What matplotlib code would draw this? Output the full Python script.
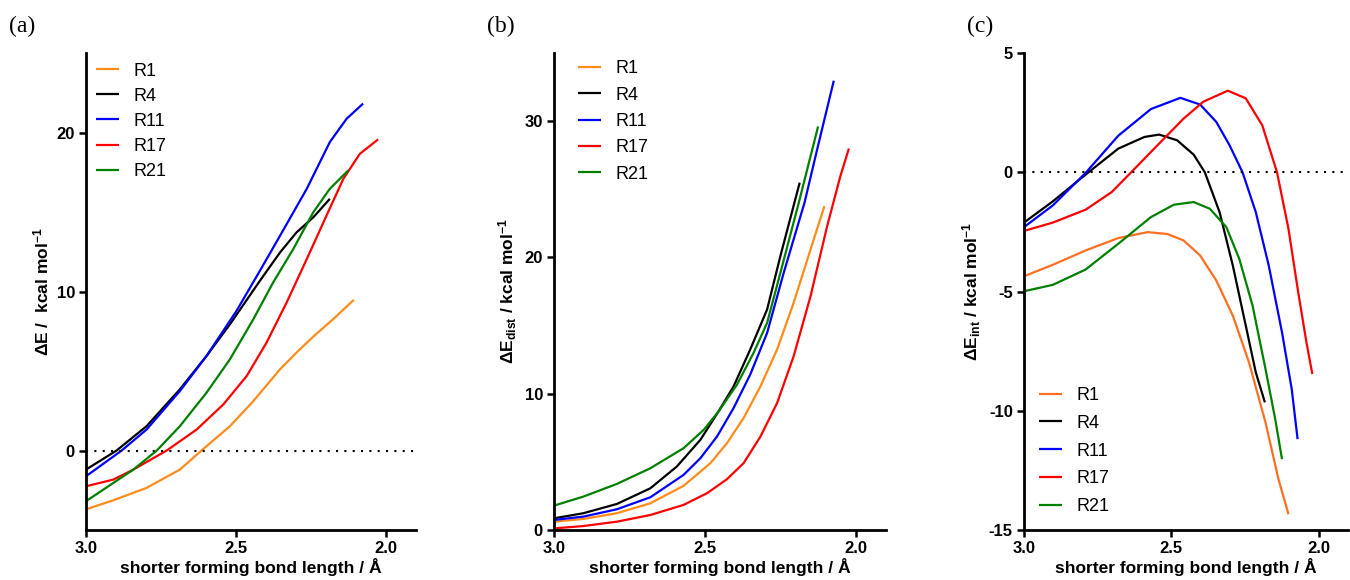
import numpy as np
import matplotlib
matplotlib.use('Agg')
import matplotlib.pyplot as plt

plt.rcParams['font.family'] = ['Liberation Sans', 'DejaVu Sans']
plt.rcParams['mathtext.default'] = 'regular'
plt.rcParams['axes.unicode_minus'] = False

names = ['R1', 'R4', 'R11', 'R17', 'R21']

# panel (a): total energy
a_x = {
    'R1': [3.0, 2.909, 2.798, 2.687, 2.615, 2.520, 2.442, 2.353, 2.298, 2.242, 2.176, 2.107],
    'R4': [3.0, 2.898, 2.798, 2.687, 2.598, 2.520, 2.420, 2.353, 2.298, 2.242, 2.187],
    'R11': [3.0, 2.881, 2.798, 2.687, 2.598, 2.498, 2.420, 2.353, 2.264, 2.187, 2.131, 2.076],
    'R17': [3.0, 2.909, 2.842, 2.731, 2.631, 2.542, 2.464, 2.398, 2.331, 2.264, 2.198, 2.142, 2.087, 2.026],
    'R21': [3.0, 2.909, 2.842, 2.764, 2.687, 2.598, 2.520, 2.442, 2.376, 2.309, 2.242, 2.187, 2.126],
}
a_y = {
    'R1': [-3.70, -3.13, -2.35, -1.20, 0.0, 1.53, 3.11, 5.11, 6.16, 7.17, 8.26, 9.48],
    'R4': [-1.20, 0.0, 1.53, 3.85, 5.95, 7.94, 10.68, 12.46, 13.72, 14.67, 15.83],
    'R11': [-1.62, 0.0, 1.32, 3.74, 5.95, 8.79, 11.31, 13.51, 16.46, 19.40, 20.87, 21.82],
    'R17': [-2.25, -1.83, -1.20, 0.0, 1.32, 2.90, 4.69, 6.79, 9.31, 12.04, 14.78, 17.09, 18.66, 19.57],
    'R21': [-3.19, -2.04, -1.20, 0.0, 1.53, 3.64, 5.74, 8.26, 10.57, 12.67, 14.99, 16.46, 17.61],
}

# panel (b): distortion energy
b_x = {
    'R1': [3.0, 2.903, 2.792, 2.681, 2.571, 2.482, 2.427, 2.372, 2.316, 2.261, 2.206, 2.150, 2.104],
    'R4': [3.0, 2.903, 2.792, 2.681, 2.593, 2.515, 2.455, 2.405, 2.350, 2.294, 2.250, 2.186],
    'R11': [3.0, 2.903, 2.792, 2.681, 2.571, 2.515, 2.460, 2.405, 2.350, 2.294, 2.239, 2.170, 2.128, 2.073],
    'R17': [3.0, 2.903, 2.792, 2.681, 2.571, 2.493, 2.427, 2.372, 2.316, 2.261, 2.206, 2.150, 2.095, 2.051, 2.023],
    'R21': [3.0, 2.903, 2.792, 2.681, 2.571, 2.504, 2.455, 2.394, 2.339, 2.294, 2.250, 2.189, 2.125],
}
b_y = {
    'R1': [0.61, 0.81, 1.23, 1.96, 3.24, 4.90, 6.37, 8.21, 10.54, 13.24, 16.67, 20.59, 23.77],
    'R4': [0.86, 1.23, 1.91, 3.06, 4.66, 6.62, 8.70, 10.54, 13.24, 16.18, 20.10, 25.49],
    'R11': [0.74, 0.98, 1.52, 2.40, 4.04, 5.27, 6.86, 8.95, 11.40, 14.46, 18.87, 24.02, 27.94, 32.97],
    'R17': [0.12, 0.29, 0.61, 1.10, 1.84, 2.70, 3.73, 4.90, 6.86, 9.31, 12.75, 17.16, 22.30, 25.98, 27.99],
    'R21': [1.79, 2.45, 3.38, 4.53, 6.00, 7.35, 8.70, 10.66, 12.99, 15.20, 18.87, 24.02, 29.61],
}

# panel (c): interaction energy
c_x = {
    'R1': [3.0, 2.902, 2.791, 2.680, 2.580, 2.513, 2.458, 2.402, 2.347, 2.291, 2.236, 2.180, 2.136, 2.102],
    'R4': [3.0, 2.902, 2.791, 2.680, 2.591, 2.541, 2.480, 2.424, 2.386, 2.336, 2.291, 2.247, 2.213, 2.182],
    'R11': [3.0, 2.902, 2.791, 2.680, 2.569, 2.469, 2.402, 2.347, 2.302, 2.258, 2.213, 2.169, 2.124, 2.091, 2.071],
    'R17': [3.0, 2.902, 2.791, 2.702, 2.636, 2.547, 2.458, 2.391, 2.308, 2.247, 2.191, 2.141, 2.102, 2.069, 2.041, 2.021],
    'R21': [3.0, 2.902, 2.791, 2.680, 2.569, 2.491, 2.424, 2.369, 2.313, 2.269, 2.224, 2.180, 2.147, 2.124],
}
c_y = {
    'R1': [-4.36, -3.88, -3.28, -2.76, -2.51, -2.59, -2.86, -3.49, -4.54, -6.01, -7.97, -10.49, -12.87, -14.34],
    'R4': [-2.11, -1.22, -0.10, 0.99, 1.48, 1.58, 1.34, 0.74, 0.0, -1.67, -3.91, -6.43, -8.39, -9.65],
    'R11': [-2.30, -1.39, -0.03, 1.53, 2.65, 3.12, 2.84, 2.11, 1.13, 0.0, -1.67, -3.91, -6.71, -9.09, -11.19],
    'R17': [-2.46, -2.11, -1.57, -0.83, 0.0, 1.13, 2.25, 2.96, 3.42, 3.10, 1.97, 0.0, -2.37, -5.03, -7.13, -8.46],
    'R21': [-4.99, -4.72, -4.08, -3.00, -1.88, -1.36, -1.25, -1.53, -2.30, -3.63, -5.59, -8.25, -10.35, -12.03],
}

colors_ab = {'R1': '#FF8C1A', 'R4': '#000000', 'R11': '#0000FF', 'R17': '#FF0000', 'R21': '#008000'}
colors_c = dict(colors_ab)
colors_c['R1'] = '#FF6F20'

fig = plt.figure(figsize=(13.5, 5.8), dpi=100)
bottom, height = 0.0862, 0.8224
ax_a = fig.add_axes([0.0637, bottom, 0.2444, height])
ax_b = fig.add_axes([0.4104, bottom, 0.2459, height])
ax_c = fig.add_axes([0.7585, bottom, 0.2400, height])

panels = [
    (ax_a, a_x, a_y, colors_ab, (-5, 25), [0, 10, 20], 'ΔE /  kcal mol$^{-1}$', '(a)'),
    (ax_b, b_x, b_y, colors_ab, (0, 35), [0, 10, 20, 30], 'ΔE$_{dist}$ / kcal mol$^{-1}$', '(b)'),
    (ax_c, c_x, c_y, colors_c, (-15, 5), [-15, -10, -5, 0, 5], 'ΔE$_{int}$ / kcal mol$^{-1}$', '(c)'),
]

for ax, xs, ys, cols, ylim, yticks, ylab, tag in panels:
    for n in names:
        ax.plot(xs[n], ys[n], color=cols[n], lw=1.6, label=n,
                solid_capstyle='butt', solid_joinstyle='round')
    if tag != '(b)':
        ax.axhline(0, color='black', ls=(0, (1, 3)), lw=1.5)
    ax.set_xlim(3.0, 1.9)
    ax.set_ylim(*ylim)
    ax.set_xticks([3.0, 2.5, 2.0])
    ax.set_xticklabels(['3.0', '2.5', '2.0'])
    ax.set_yticks(yticks)
    ax.spines['top'].set_visible(False)
    ax.spines['right'].set_visible(False)
    ax.spines['left'].set_linewidth(2)
    ax.spines['bottom'].set_linewidth(2)
    ax.tick_params(direction='out', length=5, width=1.8, labelsize=12, pad=3)
    for lab in ax.get_xticklabels() + ax.get_yticklabels():
        lab.set_fontweight('bold')
    ax.set_xlabel('shorter forming bond length / Å', fontsize=12.5, fontweight='bold', labelpad=1)
    ax.set_ylabel(ylab, fontsize=12.5, fontweight='bold')

ax_a.legend(loc='upper left', bbox_to_anchor=(0.03, 0.98), frameon=False, fontsize=13,
            handlelength=1.3, handletextpad=0.8, labelspacing=0.45, borderpad=0, borderaxespad=0)
ax_b.legend(loc='upper left', bbox_to_anchor=(0.072, 0.985), frameon=False, fontsize=13,
            handlelength=1.3, handletextpad=0.8, labelspacing=0.52, borderpad=0, borderaxespad=0)
ax_c.legend(loc='upper left', bbox_to_anchor=(0.046, 0.30), frameon=False, fontsize=13,
            handlelength=1.3, handletextpad=0.8, labelspacing=0.6, borderpad=0, borderaxespad=0)

fig.text(0.007, 0.955, '(a)', family='Liberation Serif', fontsize=17, va='center')
fig.text(0.361, 0.955, '(b)', family='Liberation Serif', fontsize=17, va='center')
fig.text(0.716, 0.955, '(c)', family='Liberation Serif', fontsize=17, va='center')

fig.savefig('out.png', dpi=100)
